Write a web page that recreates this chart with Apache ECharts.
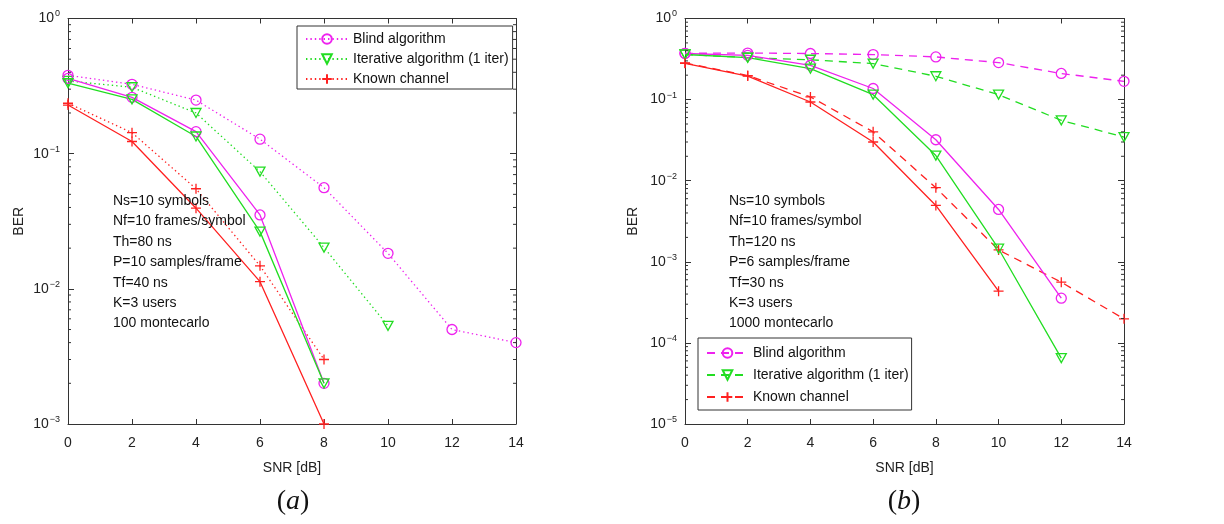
<!DOCTYPE html>
<html>
<head>
<meta charset="utf-8">
<script src="https://cdn.jsdelivr.net/npm/echarts@6/dist/echarts.min.js"></script>
<style>
  html, body { margin: 0; padding: 0; background: #ffffff; }
  #chart { width: 1224px; height: 524px; }
</style>
</head>
<body>
<div id="chart"></div>
<script>
// SNR axis (dB)
const snr = [0, 2, 4, 6, 8, 10, 12, 14];

// Panel (a): BER curves
const aBlindDotted     = [0.38, 0.326, 0.249, 0.128, 0.056, 0.0183, 0.0050, 0.0040];
const aIterDotted      = [0.345, 0.31, 0.20, 0.0736, 0.0202, 0.00532];
const aKnownDotted     = [0.236, 0.143, 0.055, 0.0148, 0.0030];
const aBlindSolid      = [0.36, 0.261, 0.1455, 0.0352, 0.0020];
const aIterSolid       = [0.332, 0.252, 0.134, 0.0265, 0.0020];
const aKnownSolid      = [0.229, 0.123, 0.0395, 0.0113, 0.0010];

// Panel (b): BER curves
const bBlindDashed     = [0.372, 0.375, 0.37, 0.359, 0.336, 0.286, 0.21, 0.168];
const bIterDashed      = [0.36, 0.33, 0.31, 0.278, 0.194, 0.115, 0.0555, 0.0345];
const bKnownDashed     = [0.283, 0.198, 0.108, 0.040, 0.0082, 0.0014, 0.00056, 0.000198];
const bBlindSolid      = [0.37, 0.352, 0.265, 0.137, 0.032, 0.00442, 0.000356];
const bIterSolid       = [0.36, 0.33, 0.241, 0.115, 0.0204, 0.00145, 0.000065];
const bKnownSolid      = [0.28, 0.195, 0.0934, 0.030, 0.00495, 0.000434];

// Legend labels and side notes
const legendNames = ['Blind algorithm', 'Iterative algorithm (1 iter)', 'Known channel'];
const notesA = ['Ns=10 symbols', 'Nf=10 frames/symbol', 'Th=80 ns', 'P=10 samples/frame', 'Tf=40 ns', 'K=3 users', '100 montecarlo'];
const notesB = ['Ns=10 symbols', 'Nf=10 frames/symbol', 'Th=120 ns', 'P=6 samples/frame', 'Tf=30 ns', 'K=3 users', '1000 montecarlo'];

// Log-axis decades of each panel (for the 2..9 minor ticks)
const decadesA = [-3, -2, -1];
const decadesB = [-5, -4, -3, -2, -1];
const minorMultipliers = [2, 3, 4, 5, 6, 7, 8, 9];

const MAGENTA = '#ee22ee';
const GREEN = '#22dd22';
const RED = '#ff2020';
const FONT = 'Liberation Sans, Arial, sans-serif';
const AXIS_COLOR = '#333333';

const DOTTED = [1.4, 3];
const DASHED = [8, 6];

const SYM_CIRCLE = 'circle';
const SYM_TRI = 'path://M0,0L10,0L5,9Z';
const SYM_PLUS = 'path://M5,0L5,10M0,5L10,5';

function pairs(values) {
  return values.map((v, i) => [snr[i], v]);
}

function curve(name, values, color, symbol, dash, xi) {
  return {
    type: 'line',
    name: name,
    xAxisIndex: xi,
    yAxisIndex: xi,
    data: pairs(values),
    symbol: symbol,
    symbolSize: 10,
    symbolKeepAspect: true,
    showAllSymbol: true,
    lineStyle: { color: color, width: 1.3, type: dash },
    itemStyle: { color: 'rgba(0,0,0,0)', borderColor: color, borderWidth: 1.3 },
    emphasis: { disabled: true },
    animation: false,
    z: 3
  };
}

function minorTickValues(decades) {
  const out = [];
  decades.forEach(e => minorMultipliers.forEach(m => out.push([0, m * Math.pow(10, e)])));
  return out;
}

// Short 2..9 ticks on both vertical edges of a log panel
function minorTickSeries(decades, idx) {
  return {
    type: 'custom',
    xAxisIndex: idx,
    yAxisIndex: idx,
    data: minorTickValues(decades),
    silent: true,
    animation: false,
    clip: false,
    z: 5,
    renderItem: function (params, api) {
      const v = api.value(1);
      const l = api.coord([0, v]);
      const r = api.coord([14, v]);
      const st = { stroke: AXIS_COLOR, lineWidth: 1 };
      return {
        type: 'group',
        children: [
          { type: 'line', shape: { x1: l[0], y1: l[1], x2: l[0] + 3, y2: l[1] }, style: st },
          { type: 'line', shape: { x1: r[0] - 3, y1: r[1], x2: r[0], y2: r[1] }, style: st }
        ]
      };
    }
  };
}

function supLabel(v) {
  const e = Math.round(Math.log10(v));
  const s = e < 0 ? '\u2212' + (-e) : String(e);
  return '{b|10}{s|' + s + '}';
}

const labelRich = {
  b: { fontSize: 14, fontFamily: FONT, color: '#222', lineHeight: 18, verticalAlign: 'middle' },
  s: { fontSize: 9, fontFamily: FONT, color: '#222', verticalAlign: 'top', padding: [0, 0, 0, 1] }
};

function xAxes(idx) {
  const base = {
    gridIndex: idx,
    type: 'value',
    min: 0, max: 14, interval: 2,
    axisLine: { show: true, onZero: false, lineStyle: { color: AXIS_COLOR, width: 1 } },
    axisTick: { show: true, inside: true, length: 5, lineStyle: { color: AXIS_COLOR } },
    splitLine: { show: false }
  };
  return [
    Object.assign({}, base, {
      position: 'bottom',
      name: 'SNR [dB]',
      nameLocation: 'middle',
      nameGap: 37,
      nameTextStyle: { fontSize: 14, fontFamily: FONT, color: '#222' },
      axisLabel: { show: true, margin: 12, fontSize: 14, fontFamily: FONT, color: '#222' }
    }),
    Object.assign({}, base, { position: 'top', axisLabel: { show: false } })
  ];
}

function yAxes(idx, min, gap) {
  const base = {
    gridIndex: idx,
    type: 'log',
    logBase: 10,
    min: min, max: 1,
    axisLine: { show: true, onZero: false, lineStyle: { color: AXIS_COLOR, width: 1 } },
    axisTick: { show: true, inside: true, length: 6, lineStyle: { color: AXIS_COLOR } },
    minorTick: { show: false },
    splitLine: { show: false }
  };
  return [
    Object.assign({}, base, {
      position: 'left',
      name: 'BER',
      nameLocation: 'middle',
      nameGap: gap,
      nameRotate: 90,
      nameTextStyle: { fontSize: 14, fontFamily: FONT, color: '#222' },
      axisLabel: { show: true, margin: 8, formatter: supLabel, rich: labelRich }
    }),
    Object.assign({}, base, { position: 'right', axisLabel: { show: false } })
  ];
}

function notes(lines, left) {
  return {
    type: 'text',
    left: left,
    top: 191,
    style: {
      text: lines.join('\n'),
      font: '14px ' + FONT,
      fill: '#111',
      lineHeight: 20.4
    },
    z: 10
  };
}

function panelTag(letter, cx) {
  return {
    type: 'text',
    x: cx,
    y: 502,
    style: {
      text: '{p|(}{i|' + letter + '}{p|)}',
      align: 'center',
      verticalAlign: 'middle',
      rich: {
        p: { fontSize: 28, fontFamily: 'Liberation Serif, DejaVu Serif, serif', fill: '#111' },
        i: { fontSize: 28, fontStyle: 'italic', fontFamily: 'Liberation Serif, DejaVu Serif, serif', fill: '#111' }
      }
    }
  };
}

const legendText = { fontSize: 14, fontFamily: FONT, color: '#111' };

const option = {
  backgroundColor: '#ffffff',
  animation: false,
  grid: [
    { left: 68, top: 18.5, width: 448, height: 405.5 },
    { left: 685, top: 18.5, width: 439, height: 405.5 }
  ],
  xAxis: xAxes(0).concat(xAxes(1)),
  yAxis: yAxes(0, 0.001, 42).concat(yAxes(1, 0.00001, 45)),
  legend: [
    {
      data: legendNames,
      orient: 'vertical',
      left: 297, top: 26,
      itemWidth: 42, itemHeight: 12, itemGap: 6,
      padding: [6, 4, 3, 8],
      borderColor: '#333', borderWidth: 1,
      backgroundColor: '#ffffff',
      selectedMode: false,
      textStyle: legendText
    },
    {
      data: legendNames.map(n => n + ' #b'),
      formatter: n => n.replace(/ #b$/, ''),
      orient: 'vertical',
      left: 698, top: 338,
      itemWidth: 41, itemHeight: 12, itemGap: 8,
      padding: [8, 3, 6, 8],
      borderColor: '#333', borderWidth: 1,
      backgroundColor: '#ffffff',
      selectedMode: false,
      textStyle: legendText,
      z: 20
    }
  ],
  series: [
    curve(legendNames[0], aBlindDotted, MAGENTA, SYM_CIRCLE, DOTTED, 0),
    curve(legendNames[1], aIterDotted, GREEN, SYM_TRI, DOTTED, 0),
    curve(legendNames[2], aKnownDotted, RED, SYM_PLUS, DOTTED, 0),
    curve('Blind algorithm, final', aBlindSolid, MAGENTA, SYM_CIRCLE, 'solid', 0),
    curve('Iterative algorithm, final', aIterSolid, GREEN, SYM_TRI, 'solid', 0),
    curve('Known channel, final', aKnownSolid, RED, SYM_PLUS, 'solid', 0),

    curve(legendNames[0] + ' #b', bBlindDashed, MAGENTA, SYM_CIRCLE, DASHED, 2),
    curve(legendNames[1] + ' #b', bIterDashed, GREEN, SYM_TRI, DASHED, 2),
    curve(legendNames[2] + ' #b', bKnownDashed, RED, SYM_PLUS, DASHED, 2),
    curve('Blind algorithm, final #b', bBlindSolid, MAGENTA, SYM_CIRCLE, 'solid', 2),
    curve('Iterative algorithm, final #b', bIterSolid, GREEN, SYM_TRI, 'solid', 2),
    curve('Known channel, final #b', bKnownSolid, RED, SYM_PLUS, 'solid', 2),

    minorTickSeries(decadesA, 0),
    minorTickSeries(decadesB, 2)
  ],
  graphic: [
    notes(notesA, 113),
    notes(notesB, 729),
    panelTag('a', 293),
    panelTag('b', 904)
  ]
};

const chart = echarts.init(document.getElementById('chart'), null, { renderer: 'canvas' });
chart.setOption(option);
</script>
</body>
</html>
